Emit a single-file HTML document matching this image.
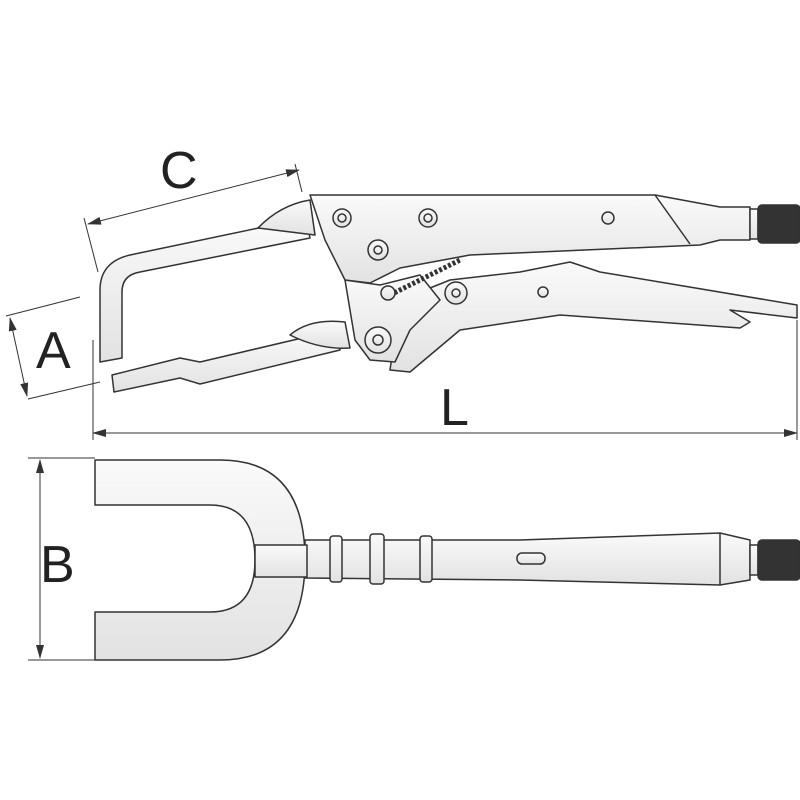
<!DOCTYPE html>
<html><head><meta charset="utf-8"><style>
html,body{margin:0;padding:0;background:#fff;}
svg{display:block;}
text{font-family:"Liberation Sans",sans-serif;fill:#222;}
</style></head><body>
<svg width="800" height="800" viewBox="0 0 800 800" xmlns="http://www.w3.org/2000/svg">
<defs>
<linearGradient id="g" x1="0" y1="0" x2="0" y2="1">
<stop offset="0" stop-color="#fafafa"/><stop offset="1" stop-color="#e2e2e2"/></linearGradient>
<marker id="ar" markerWidth="14" markerHeight="8" refX="13" refY="4" orient="auto-start-reverse" markerUnits="userSpaceOnUse">
<path d="M0,0 L14,4 L0,8 Z" fill="#333"/></marker>
</defs>
<g stroke="#333" stroke-width="1" fill="none">
<!-- C dimension -->
<line x1="84" y1="218" x2="98" y2="272"/>
<line x1="295" y1="164" x2="302" y2="192"/>
<line x1="88" y1="224" x2="299" y2="170" marker-start="url(#ar)" marker-end="url(#ar)"/>
<!-- A dimension -->
<line x1="6" y1="316" x2="80" y2="297"/>
<line x1="28" y1="399" x2="100" y2="382"/>
<line x1="10" y1="318" x2="27" y2="396" marker-start="url(#ar)" marker-end="url(#ar)"/>
<!-- L dimension -->
<line x1="93" y1="340" x2="93" y2="440"/>
<line x1="797" y1="320" x2="797" y2="440"/>
<line x1="93" y1="433" x2="797" y2="433" marker-start="url(#ar)" marker-end="url(#ar)"/>
<!-- B dimension -->
<line x1="28" y1="458" x2="95" y2="458"/>
<line x1="28" y1="660" x2="95" y2="660"/>
<line x1="40" y1="460" x2="40" y2="658" marker-start="url(#ar)" marker-end="url(#ar)"/>
</g>
<text x="160" y="188" font-size="52">C</text>
<text x="36" y="368" font-size="52">A</text>
<text x="440" y="425" font-size="52">L</text>
<text x="40" y="582" font-size="52">B</text>

<g stroke="#333" stroke-width="1.5" fill="url(#g)" stroke-linejoin="round">
<!-- top pliers arms -->
<path d="M100,290 L100,362 L122,358 L122,292 Q122,275 140,272 L310,238 L306,218 L130,255 Q100,262 100,290 Z"/>
<path d="M112,375 L114,392 L180,378 L200,384 L340,350 L336,330 L200,362 L180,358 Z"/>
<path d="M290,335 Q310,318 345,322 L350,348 Q320,350 290,335 Z"/>
<path d="M258,228 Q280,205 310,200 L315,235 Z"/>
<!-- lower handle -->
<path d="M390,370 L410,372 L460,330 L560,315 L740,328 L750,322 L730,310 L797,318 L797,305 L600,272 L570,262 L520,272 L450,280 L400,300 Z"/>
<!-- middle jaw/link -->
<path d="M345,280 L380,285 L420,275 L440,300 L410,330 L395,362 L370,360 L355,340 Z"/>
<!-- upper handle -->
<path d="M310,195 L655,195 L720,207 L750,207 L750,240 L720,240 L700,245 L470,255 L400,268 L370,283 L345,280 L325,240 Z"/>
<line x1="655" y1="195" x2="690" y2="244"/>
<rect x="750" y="209" width="8" height="30"/>
<rect x="758" y="205" width="42" height="38" rx="4" fill="#333"/>
<!-- spring -->
<path d="M390,295 L460,260" stroke-dasharray="3,2" stroke-width="5" fill="none"/>
<!-- rivets -->
<circle cx="342" cy="218" r="9"/><circle cx="342" cy="218" r="4"/>
<circle cx="428" cy="218" r="9"/><circle cx="428" cy="218" r="4"/>
<circle cx="378" cy="250" r="10"/><circle cx="378" cy="250" r="4"/>
<circle cx="608" cy="218" r="6"/>
<circle cx="456" cy="293" r="11"/><circle cx="456" cy="293" r="4"/>
<circle cx="543" cy="292" r="5"/>
<circle cx="388" cy="293" r="7"/>
<circle cx="378" cy="340" r="13"/><circle cx="378" cy="340" r="5"/>

<!-- bottom U clamp -->
<path d="M95,460 L220,460 Q305,460 305,560 Q305,660 220,660 L95,660 L95,612 L210,612 Q255,612 255,560 Q255,505 210,505 L95,505 Z"/>
<!-- handle -->
<path d="M305,540 L520,540 L720,533 L750,540 L750,580 L720,585 L520,580 L305,578 Z"/>
<rect x="255" y="545" width="52" height="32"/>
<rect x="330" y="536" width="12" height="46" rx="3"/>
<rect x="370" y="534" width="14" height="50" rx="3"/>
<rect x="420" y="536" width="12" height="46" rx="3"/>
<line x1="720" y1="533" x2="720" y2="585"/>
<rect x="517" y="553" width="28" height="11" rx="5"/>
<rect x="750" y="545" width="8" height="30"/>
<rect x="758" y="540" width="42" height="40" rx="4" fill="#333"/>
</g>
</svg>
</body></html>
